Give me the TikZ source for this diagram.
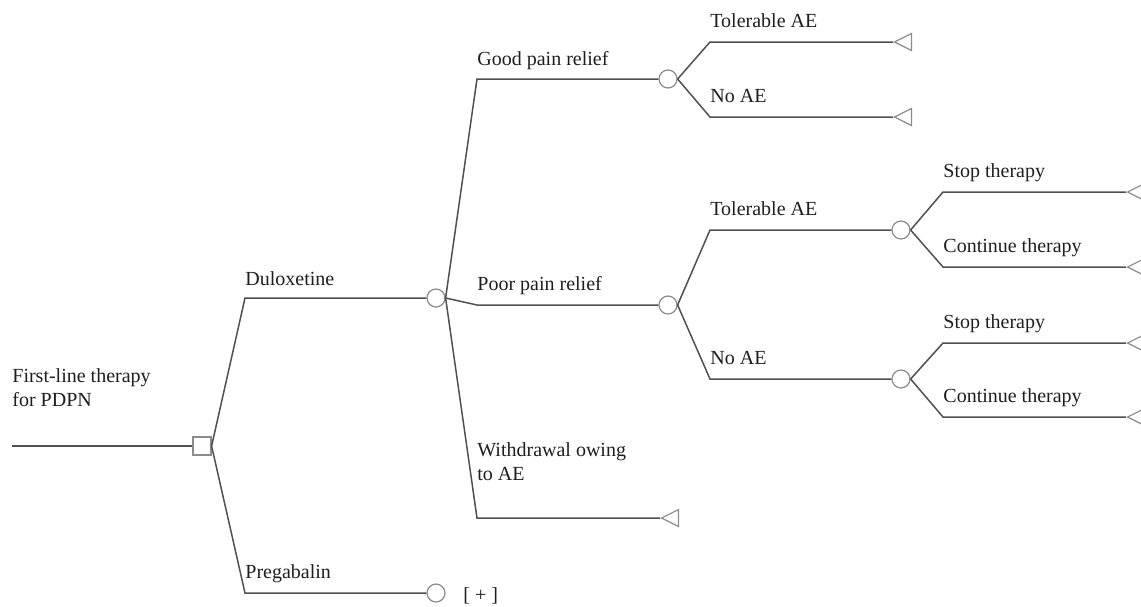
\documentclass[tikz,border=0pt]{standalone}
\usepackage{fontspec}
\setmainfont{Liberation Serif}
\usetikzlibrary{shapes.geometric}
\definecolor{edge}{HTML}{505050}
\definecolor{markgray}{HTML}{8c8c8c}
\definecolor{txt}{HTML}{1e1e1e}

\begin{document}
\begin{tikzpicture}[x=0.5pt,y=-0.5pt,
  br/.style={draw=edge,line width=0.75pt},
  choice/.style={rectangle,draw=markgray,line width=0.6pt,fill=white,minimum size=9pt,inner sep=0pt},
  chance/.style={circle,draw=markgray,line width=0.6pt,fill=white,minimum size=9pt,inner sep=0pt},
  term/.style={isosceles triangle,isosceles triangle stretches,shape border rotate=180,draw=markgray,line width=0.6pt,fill=white,minimum width=8.5pt,minimum height=8.5pt,inner sep=0pt,anchor=apex},
  lbl/.style={anchor=base west,inner sep=0pt,text=txt,font=\fontsize{10}{12}\selectfont,align=left}]
\useasboundingbox (0,0) rectangle (1141,606);
% decision and chance nodes
\coordinate (r0) at (12,446);
\node[choice] (dec) at (202,446) {};
\node[chance] (c1) at (436,298) {};
\node[chance] (c2) at (436,593) {};
\node[chance] (c3) at (668,79) {};
\node[chance] (c4) at (668,305) {};
\node[chance] (c5) at (901,230) {};
\node[chance] (c6) at (901,379) {};
% terminal nodes
\node[term] (t1) at (893,42) {};
\node[term] (t2) at (893,117) {};
\node[term] (t3) at (660,518) {};
\node[term] (t4) at (1126,192) {};
\node[term] (t5) at (1126,267) {};
\node[term] (t6) at (1126,343) {};
\node[term] (t7) at (1126,417) {};
% branch corners
\coordinate (kd) at (245,298);
\coordinate (kp) at (245,593);
\coordinate (kg) at (477,79);
\coordinate (kq) at (477,305);
\coordinate (kw) at (477,518);
\coordinate (ka) at (710,42);
\coordinate (kb) at (710,117);
\coordinate (kc) at (710,230);
\coordinate (ke) at (710,379);
\coordinate (ks1) at (943,192);
\coordinate (kt1) at (943,267);
\coordinate (ks2) at (943,343);
\coordinate (kt2) at (943,417);
% branches
\draw[br] (r0) -- (dec);
\draw[br] (dec.east) -- (kd) -- (c1);
\draw[br] (dec.east) -- (kp) -- (c2);
\draw[br] (c1.east) -- (kg) -- (c3);
\draw[br] (c1.east) -- (kq) -- (c4);
\draw[br] (c1.east) -- (kw) -- (t3.apex);
\draw[br] (c3.east) -- (ka) -- (t1.apex);
\draw[br] (c3.east) -- (kb) -- (t2.apex);
\draw[br] (c4.east) -- (kc) -- (c5);
\draw[br] (c4.east) -- (ke) -- (c6);
\draw[br] (c5.east) -- (ks1) -- (t4.apex);
\draw[br] (c5.east) -- (kt1) -- (t5.apex);
\draw[br] (c6.east) -- (ks2) -- (t6.apex);
\draw[br] (c6.east) -- (kt2) -- (t7.apex);
% labels
\node[lbl] (lroot) at (12,406) {First-line therapy\\for PDPN};
\node[lbl] (ldul) at (245,285) {Duloxetine};
\node[lbl] (lpre) at (245,578) {Pregabalin};
\node[lbl] (lgood) at (477,65) {Good pain relief};
\node[lbl] (lpoor) at (477,290) {Poor pain relief};
\node[lbl] (lwd) at (477,480) {Withdrawal owing\\to AE};
\node[lbl] (ltol1) at (710,27) {Tolerable AE};
\node[lbl] (lno1) at (710,102) {No AE};
\node[lbl] (ltol2) at (710,215) {Tolerable AE};
\node[lbl] (lno2) at (710,364) {No AE};
\node[lbl] (lstop1) at (943,177) {Stop therapy};
\node[lbl] (lcont1) at (943,252) {Continue therapy};
\node[lbl] (lstop2) at (943,328) {Stop therapy};
\node[lbl] (lcont2) at (943,402) {Continue therapy};
\node[lbl,anchor=west] (lplus) at (463,596) {[ + ]};
\end{tikzpicture}
\end{document}
